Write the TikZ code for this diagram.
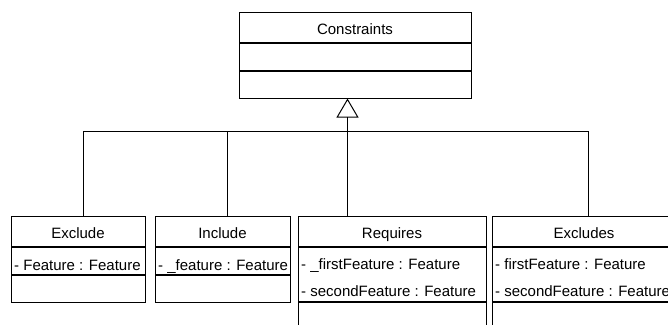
\documentclass[tikz,border=0pt]{standalone}
\usepackage{fontspec}
\setmainfont{Liberation Sans}
\usetikzlibrary{arrows.meta,positioning}

\begin{document}
\begin{tikzpicture}[
		x=1pt,y=-1pt,
		lab/.style={font=\fontsize{15}{18}\selectfont},
		part/.style={draw=black,line width=1pt,inner sep=0pt},
		head/.style={part,lab,minimum height=30pt,text height=15pt,text depth=0pt},
		attr/.style={lab,inner sep=0pt,anchor=base west},
		link/.style={line width=1pt},
		gen/.style={link,-{Triangle[open,length=19pt,width=22pt,line width=1pt]}}
		]
		\useasboundingbox (0,0) rectangle (668,324);
		
		% --- Superclass
		\node[head,minimum width=232pt] (con) at (355,27) {Constraints};
		\node[part,minimum width=232pt,minimum height=27pt,below=0pt of con] (con-a) {};
		\node[part,minimum width=232pt,minimum height=27pt,below=0pt of con-a] (con-o) {};
		
		% --- Exclude
		\node[head,minimum width=134pt] (excl) at (78,231) {Exclude};
		\node[part,minimum width=134pt,minimum height=27pt,below=0pt of excl] (excl-a) {};
		\node[part,minimum width=134pt,minimum height=27pt,below=0pt of excl-a] (excl-o) {};
		\node[attr] at (14,270.5) {- Feature : Feature};
		
		% --- Include
		\node[head,minimum width=135pt] (incl) at (222.5,231) {Include};
		\node[part,minimum width=135pt,minimum height=27pt,below=0pt of incl] (incl-a) {};
		\node[part,minimum width=135pt,minimum height=27pt,below=0pt of incl-a] (incl-o) {};
		\node[attr] at (158,270.5) {- \_feature : Feature};
		
		% --- Requires
		\node[head,minimum width=188pt] (req) at (392,231) {Requires};
		\node[part,minimum width=188pt,minimum height=54pt,below=0pt of req] (req-a) {};
		\node[part,minimum width=188pt,minimum height=30pt,below=0pt of req-a] (req-o) {};
		\node[attr] at (301,269.5) {- \_firstFeature : Feature};
		\node[attr] at (301,296) {- secondFeature : Feature};
		
		% --- Excludes
		\node[head,minimum width=184pt] (exs) at (584,231) {Excludes};
		\node[part,minimum width=184pt,minimum height=54pt,below=0pt of exs] (exs-a) {};
		\node[part,minimum width=184pt,minimum height=30pt,below=0pt of exs-a] (exs-o) {};
		\node[attr] at (495,269.5) {- firstFeature : Feature};
		\node[attr] at (495,296) {- secondFeature : Feature};
		
		% --- Generalisation tree
		\coordinate (bus) at (347.5,131.7);
		\draw[link] ([xshift=5pt]excl.north) |- (bus);
		\draw[link] ([xshift=4.5pt]incl.north) |- (bus);
		\draw[link] ([xshift=4pt]exs.north) |- (bus);
		\draw[gen] (req.north -| bus) -- (con-o.south -| bus);
		
	\end{tikzpicture}
\end{document}
